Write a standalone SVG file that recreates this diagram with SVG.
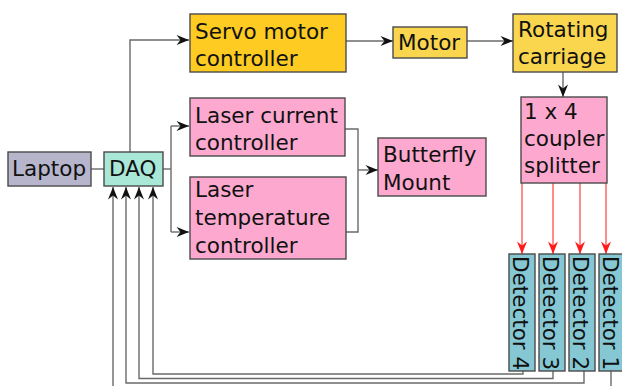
<svg xmlns="http://www.w3.org/2000/svg" width="622" height="386" viewBox="0 0 622 386">
  <style>
    .box { stroke: #4a4a4a; stroke-width: 1.4; }
    .servo { fill: #fdcb22; }
    .yel { fill: #fad54e; }
    .pink { fill: #fda9cf; }
    .laptop { fill: #b6b5cb; }
    .daq { fill: #a9e7d7; }
    .det { fill: #86c7d4; }
    text { font-family: "DejaVu Sans", Verdana, sans-serif; font-size: 21.5px; fill: #111; }
    .wire { fill: none; stroke: #6a6a6a; stroke-width: 1.4; }
    .fiber { fill: none; stroke: #ff5a5a; stroke-width: 1.4; }
  </style>
  <defs>
    <marker id="arr" markerUnits="userSpaceOnUse" markerWidth="16" markerHeight="14" viewBox="-14 -7 16 14" refX="0" refY="0" orient="auto">
      <path d="M0,0 L-12.5,-5 L-8.5,0 L-12.5,5 Z" fill="#111"/>
    </marker>
    <marker id="arrRed" markerUnits="userSpaceOnUse" markerWidth="16" markerHeight="14" viewBox="-14 -7 16 14" refX="0" refY="0" orient="auto">
      <path d="M0,0 L-12.5,-5 L-8.5,0 L-12.5,5 Z" fill="#ff1a1a"/>
    </marker>
  </defs>

  <!-- connectors -->
  <g id="connectors">
    <path class="wire" d="M91,169 H104"/>
    <path class="wire" d="M130,152 V40 H189" marker-end="url(#arr)"/>
    <path class="wire" d="M163,169 H171"/>
    <path class="wire" d="M171,126 V232"/>
    <path class="wire" d="M171,126 H189" marker-end="url(#arr)"/>
    <path class="wire" d="M171,232 H189" marker-end="url(#arr)"/>
    <path class="wire" d="M345,129 H358 V232 H346"/>
    <path class="wire" d="M358,170 H378" marker-end="url(#arr)"/>
    <path class="wire" d="M346,41 H393" marker-end="url(#arr)"/>
    <path class="wire" d="M467,41 H513" marker-end="url(#arr)"/>
    <path class="wire" d="M563,72 V97" marker-end="url(#arr)"/>
    <path class="fiber" d="M522,183 V254" marker-end="url(#arrRed)"/>
    <path class="fiber" d="M553,183 V254" marker-end="url(#arrRed)"/>
    <path class="fiber" d="M580,183 V254" marker-end="url(#arrRed)"/>
    <path class="fiber" d="M606,183 V254" marker-end="url(#arrRed)"/>
    <path class="wire" d="M523,371 V374 H153 V187" marker-end="url(#arr)"/>
    <path class="wire" d="M553,371 V378.5 H139 V187" marker-end="url(#arr)"/>
    <path class="wire" d="M584,371 V383 H126 V187" marker-end="url(#arr)"/>
    <path class="wire" d="M611,371 V392 H113 V187" marker-end="url(#arr)"/>
  </g>

  <g id="laptop">
    <rect class="box laptop" x="8" y="152" width="83" height="34"/>
    <text x="12" y="176">Laptop</text>
  </g>
  <g id="daq">
    <rect class="box daq" x="104" y="152" width="59" height="34"/>
    <text x="109" y="176">DAQ</text>
  </g>
  <g id="servo">
    <rect class="box servo" x="190" y="14" width="156" height="58"/>
    <text x="195" y="39">Servo motor</text>
    <text x="195" y="66">controller</text>
  </g>
  <g id="motor">
    <rect class="box yel" x="393" y="27" width="74" height="31"/>
    <text x="398" y="50">Motor</text>
  </g>
  <g id="carriage">
    <rect class="box yel" x="513" y="14" width="104" height="58"/>
    <text x="518" y="37">Rotating</text>
    <text x="518" y="64">carriage</text>
  </g>
  <g id="laser-current">
    <rect class="box pink" x="190" y="98" width="155" height="58"/>
    <text x="195" y="123">Laser current</text>
    <text x="195" y="150">controller</text>
  </g>
  <g id="laser-temp">
    <rect class="box pink" x="190" y="177" width="156" height="82"/>
    <text x="195" y="197">Laser</text>
    <text x="195" y="225">temperature</text>
    <text x="195" y="253">controller</text>
  </g>
  <g id="butterfly">
    <rect class="box pink" x="378" y="138" width="108" height="58"/>
    <text x="383" y="162">Butterfly</text>
    <text x="383" y="190">Mount</text>
  </g>
  <g id="splitter">
    <rect class="box pink" x="521" y="97" width="86" height="86"/>
    <text x="524" y="119">1 x 4</text>
    <text x="524" y="146">coupler</text>
    <text x="524" y="173">splitter</text>
  </g>
  <g id="detector4">
    <rect class="box det" x="509" y="254" width="26" height="117"/>
    <text transform="translate(513,256) rotate(90)">Detector 4</text>
  </g>
  <g id="detector3">
    <rect class="box det" x="539" y="254" width="26" height="117"/>
    <text transform="translate(543,256) rotate(90)">Detector 3</text>
  </g>
  <g id="detector2">
    <rect class="box det" x="569" y="254" width="26" height="117"/>
    <text transform="translate(573,256) rotate(90)">Detector 2</text>
  </g>
  <g id="detector1">
    <rect class="box det" x="599" y="254" width="26" height="117"/>
    <text transform="translate(603,256) rotate(90)">Detector 1</text>
  </g>
</svg>
